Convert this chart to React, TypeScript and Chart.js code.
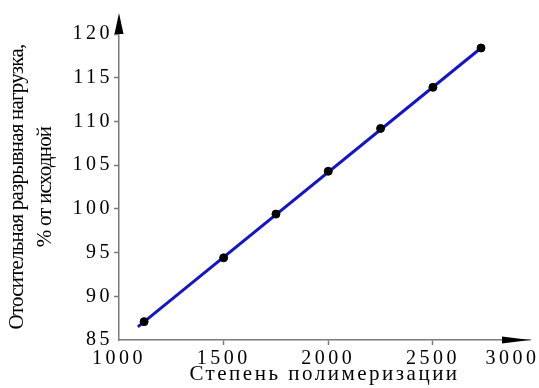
import React, { useEffect, useRef } from 'react';
import { Chart, registerables } from 'chart.js';

Chart.register(...registerables);

// ---- data ----
const xTickLabels = ['1000', '1500', '2000', '2500', '3000'];
const xTickValues = [1000, 1500, 2000, 2500, 2880]; // "3000" sits at the foot of the axis arrow
const pointX = [1120, 1500, 1750, 2000, 2250, 2500, 2730];
const pointY = [87.1, 94.4, 99.4, 104.3, 109.2, 113.9, 118.4];
const fitX = [1090, 2730];
const fitY = [86.5, 118.4];
const yTitle = ['Отосительная разрывная нагрузка,', '% от исходной'];
const xTitle = 'Степень полимеризации';

const AXIS = '#7a7a7a';
const NONE = 'rgba(0,0,0,0)';
const FONT = "'Liberation Serif', 'Times New Roman', serif";

const spacingPlugin = {
  id: 'spacing',
  afterUpdate(chart: any) {
    for (const s of Object.values(chart.scales) as any[]) {
      if (s.__wrapped) continue;
      s.__wrapped = true;
      const dl = s.drawLabels.bind(s);
      s.drawLabels = (...a: any[]) => {
        const c = s.ctx;
        const p = c.letterSpacing;
        c.letterSpacing = '3.5px';
        dl(...a);
        c.letterSpacing = p;
      };
      const dt = s.drawTitle.bind(s);
      s.drawTitle = (...a: any[]) => {
        const c = s.ctx;
        const p = c.letterSpacing;
        c.letterSpacing = s.id === 'y' ? '-0.8px' : '2.5px';
        dt(...a);
        c.letterSpacing = p;
      };
    }
  },
};

const arrowPlugin = {
  id: 'arrows',
  afterDraw(chart: any) {
    const { ctx, chartArea } = chart;
    const { left, top, right, bottom } = chartArea;
    ctx.save();
    ctx.fillStyle = '#000';
    ctx.beginPath();
    ctx.moveTo(left, top - 21);
    ctx.lineTo(left - 4.5, top);
    ctx.lineTo(left + 4.5, top);
    ctx.closePath();
    ctx.fill();
    ctx.beginPath();
    ctx.moveTo(right, bottom);
    ctx.lineTo(right - 28, bottom - 3.5);
    ctx.lineTo(right - 28, bottom + 3.5);
    ctx.closePath();
    ctx.fill();
    ctx.restore();
  },
};

export default function App() {
  const ref = useRef<HTMLCanvasElement>(null);
  useEffect(() => {
    const chart = new Chart(ref.current!, {
      type: 'scatter',
      data: {
        datasets: [
          {
            label: 'points',
            data: pointX.map((x, i) => ({ x, y: pointY[i] })),
            backgroundColor: '#000',
            borderColor: '#000',
            pointRadius: 4,
            pointHoverRadius: 4,
            showLine: false,
          },
          {
            label: 'fit',
            data: fitX.map((x, i) => ({ x, y: fitY[i] })),
            borderColor: '#1414c8',
            borderWidth: 3,
            pointRadius: 0,
            showLine: true,
          },
        ],
      },
      options: {
        responsive: false,
        animation: false,
        events: [],
        layout: { padding: { top: 34, right: 9, bottom: 0, left: 0 } },
        plugins: { legend: { display: false }, tooltip: { enabled: false } },
        scales: {
          x: {
            type: 'linear',
            min: 1000,
            max: 2964,
            border: { color: AXIS, width: 1.5 },
            grid: {
              drawOnChartArea: false,
              tickLength: 5,
              tickWidth: 1.5,
              tickColor: (c: any) => (c.index === 0 || c.index === 4 ? NONE : AXIS),
            },
            afterBuildTicks: (s: any) => {
              s.ticks = xTickValues.map((v) => ({ value: v }));
            },
            afterFit: (s: any) => {
              s.height = 48;
            },
            ticks: {
              autoSkip: false,
              maxRotation: 0,
              padding: 2,
              color: '#000',
              font: { family: FONT, size: 20 },
              callback: (_v: any, i: number) => xTickLabels[i],
            },
            title: {
              display: true,
              text: xTitle,
              color: '#000',
              font: { family: FONT, size: 21 },
              padding: { top: 0, bottom: 1 },
            },
          },
          y: {
            type: 'linear',
            min: 85,
            max: 120,
            border: { color: AXIS, width: 1.5 },
            grid: {
              drawOnChartArea: false,
              tickLength: 5,
              tickWidth: 1.5,
              tickColor: (c: any) => (c.index === 0 ? NONE : AXIS),
            },
            afterFit: (s: any) => {
              s.width = 119;
            },
            ticks: {
              stepSize: 5,
              padding: 1,
              color: '#000',
              font: { family: FONT, size: 20 },
            },
            title: {
              display: true,
              text: yTitle,
              color: '#000',
              font: { family: FONT, size: 21, lineHeight: 1.333 },
              padding: { top: 3, bottom: 0 },
            },
          },
        },
      },
      plugins: [spacingPlugin, arrowPlugin],
    } as any);
    return () => chart.destroy();
  }, []);
  return (
    <div style={{ position: 'absolute', left: 0, top: 0, width: 539, height: 388, background: '#fff' }}>
      <canvas ref={ref} width={539} height={388} />
    </div>
  );
}
